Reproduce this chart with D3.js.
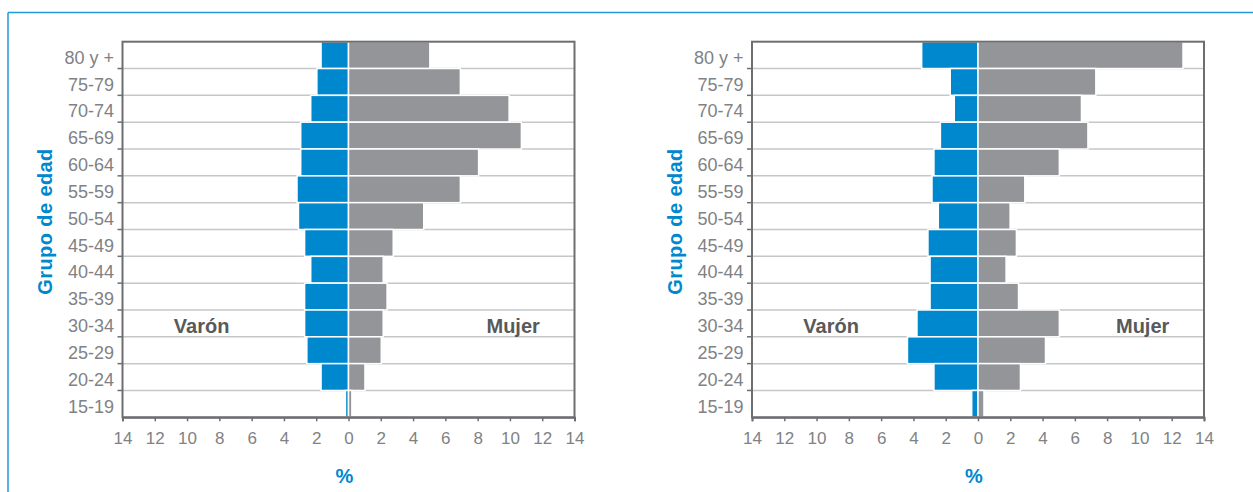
<!DOCTYPE html>
<html lang="es">
  <head>
    <meta charset="utf-8">
    <title>Pirámide por grupo de edad</title>
    <script src="https://cdnjs.cloudflare.com/ajax/libs/d3/7.8.5/d3.min.js"></script>
    <style>
      body {
        margin: 0;
        background: #fff;
        font-family: "Liberation Sans", Arial, Helvetica, sans-serif;
      }
      .tick text {
        fill: #808285;
      }
    </style>
  </head>
  <body>
    <svg id="chart" width="1253" height="492"></svg>

    <script type="text/javascript">

    // grupos de edad, de arriba hacia abajo
    const ageGroups = ["80 y +", "75-79", "70-74", "65-69", "60-64", "55-59", "50-54",
                       "45-49", "40-44", "35-39", "30-34", "25-29", "20-24", "15-19"];

    // valores en %, lectura aproximada del gráfico
    const leftMale   = [1.70, 1.96, 2.34, 2.96, 2.96, 3.19, 3.10, 2.72, 2.34, 2.72, 2.72, 2.58, 1.70, 0.19];
    const leftFemale = [5.04, 6.93, 9.95, 10.71, 8.06, 6.93, 4.66, 2.77, 2.15, 2.39, 2.15, 2.03, 1.02, 0.21];

    const rightMale   = [3.49, 1.72, 1.47, 2.33, 2.73, 2.85, 2.46, 3.10, 2.97, 2.97, 3.78, 4.37, 2.73, 0.39];
    const rightFemale = [12.70, 7.30, 6.41, 6.81, 5.04, 2.90, 1.99, 2.38, 1.74, 2.51, 5.04, 4.18, 2.63, 0.37];

    const xTicks = [-14, -12, -10, -8, -6, -4, -2, 0, 2, 4, 6, 8, 10, 12, 14];

    const blue = "#0088ce";
    const grey = "#939598";
    const axisColor = "#6d6e71";

    const svg = d3.select("#chart");

    // marco azul exterior
    svg.append("line")
       .attr("x1", 8).attr("x2", 1253)
       .attr("y1", 12.5).attr("y2", 12.5)
       .attr("stroke", "#1f9bd7")
       .attr("stroke-width", 1.5);
    svg.append("line")
       .attr("x1", 8).attr("x2", 8)
       .attr("y1", 12.5).attr("y2", 492)
       .attr("stroke", "#1f9bd7")
       .attr("stroke-width", 1.5);

    const drawPyramid = function(male, female, x0, x1) {
      const y0 = 41.7;
      const y1 = 417.3;

      const g = svg.append("g");

      const xScale = d3.scaleLinear()
                       .domain([-14, 14])
                       .range([x0, x1]);

      const yScale = d3.scaleBand()
                       .domain(ageGroups)
                       .range([y0, y1])
                       .padding(0);

      const bw = yScale.bandwidth();

      // lineas horizontales
      g.selectAll(".grid")
       .data(ageGroups.slice(0, -1))
       .enter()
       .append("line")
       .attr("class", "grid")
       .attr("x1", x0).attr("x2", x1)
       .attr("y1", d => yScale(d) + bw)
       .attr("y2", d => yScale(d) + bw)
       .attr("stroke", "#c6c7c8")
       .attr("stroke-width", 1.5);

      // marcas del eje y en los limites de cada grupo
      g.selectAll(".ytick")
       .data(ageGroups.slice(0, -1))
       .enter()
       .append("line")
       .attr("class", "ytick")
       .attr("x1", x0 - 5).attr("x2", x0)
       .attr("y1", d => yScale(d) + bw)
       .attr("y2", d => yScale(d) + bw)
       .attr("stroke", axisColor)
       .attr("stroke-width", 1.5);

      // barras varón (izquierda)
      g.selectAll(".male")
       .data(male)
       .enter()
       .append("rect")
       .attr("class", "male")
       .attr("x", d => xScale(-d))
       .attr("y", (d, i) => yScale(ageGroups[i]))
       .attr("width", d => xScale(0) - xScale(-d))
       .attr("height", bw)
       .attr("fill", blue)
       .attr("stroke", "#fff")
       .attr("stroke-width", 1.5);

      // barras mujer (derecha)
      g.selectAll(".female")
       .data(female)
       .enter()
       .append("rect")
       .attr("class", "female")
       .attr("x", xScale(0))
       .attr("y", (d, i) => yScale(ageGroups[i]))
       .attr("width", d => xScale(d) - xScale(0))
       .attr("height", bw)
       .attr("fill", grey)
       .attr("stroke", "#fff")
       .attr("stroke-width", 1.5);

      // recuadro
      g.append("rect")
       .attr("x", x0).attr("y", y0)
       .attr("width", x1 - x0).attr("height", y1 - y0)
       .attr("fill", "none")
       .attr("stroke", axisColor)
       .attr("stroke-width", 2);

      // eje x
      const xAxis = d3.axisBottom(xScale)
                      .tickValues(xTicks)
                      .tickFormat(d => Math.abs(d))
                      .tickSize(4)
                      .tickPadding(11);

      const gx = g.append("g")
                  .attr("transform", "translate(0," + y1 + ")")
                  .call(xAxis);
      gx.select(".domain").attr("stroke", axisColor).attr("stroke-width", 2);
      gx.selectAll(".tick line").attr("stroke", axisColor).attr("stroke-width", 1.5);
      gx.selectAll(".tick text")
        .attr("font-size", 17)
        .attr("font-family", "'Liberation Sans', Arial, sans-serif");

      // etiquetas del eje y
      const yAxis = d3.axisLeft(yScale)
                      .tickSize(0)
                      .tickPadding(8.5);

      const gy = g.append("g")
                  .attr("transform", "translate(" + x0 + ",0)")
                  .call(yAxis);
      gy.select(".domain").remove();
      gy.selectAll(".tick text")
        .attr("font-size", 18)
        .attr("dy", "0.48em")
        .attr("font-family", "'Liberation Sans', Arial, sans-serif");

      // Varón / Mujer
      const rowY = yScale("30-34") + bw / 2;
      g.append("text")
       .attr("x", xScale(-9.1))
       .attr("y", rowY)
       .attr("dy", "0.47em")
       .attr("text-anchor", "middle")
       .attr("font-size", 20)
       .attr("font-weight", "bold")
       .attr("fill", "#58595b")
       .text("Varón");
      g.append("text")
       .attr("x", xScale(10.2))
       .attr("y", rowY)
       .attr("dy", "0.47em")
       .attr("text-anchor", "middle")
       .attr("font-size", 20)
       .attr("font-weight", "bold")
       .attr("fill", "#58595b")
       .text("Mujer");

      // titulos de ejes
      g.append("text")
       .attr("x", xScale(0) - 4)
       .attr("y", 483)
       .attr("text-anchor", "middle")
       .attr("font-size", 20)
       .attr("font-weight", "bold")
       .attr("fill", blue)
       .text("%");

      g.append("text")
       .attr("transform", "translate(" + (x0 - 70.5) + "," + 221.5 + ") rotate(-90)")
       .attr("text-anchor", "middle")
       .attr("font-size", 20)
       .attr("font-weight", "bold")
       .attr("letter-spacing", 0.4)
       .attr("fill", blue)
       .text("Grupo de edad");
    }

    drawPyramid(leftMale, leftFemale, 122.5, 574.5);
    drawPyramid(rightMale, rightFemale, 752, 1204);

    </script>
  </body>
</html>
